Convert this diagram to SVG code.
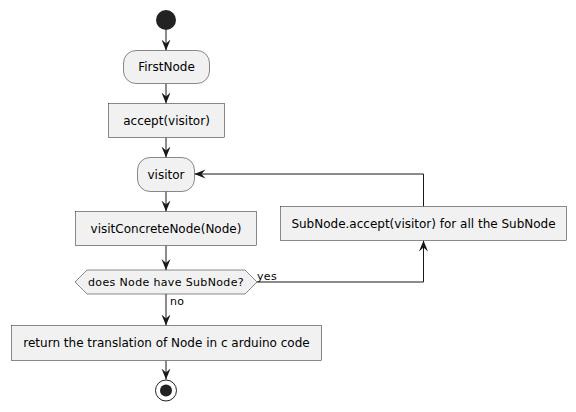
<svg xmlns="http://www.w3.org/2000/svg" width="576" height="412" viewBox="0 0 576 412">
<defs>
<style>
.box{fill:#F1F1F1;stroke:#181818;stroke-width:0.5}
.t{font-family:"DejaVu Sans",sans-serif;font-size:12px;fill:#000;text-anchor:middle;dominant-baseline:central}
.s{font-family:"DejaVu Sans",sans-serif;font-size:11px;fill:#000;letter-spacing:0.35px}
.ln{fill:none;stroke:#181818;stroke-width:1}
</style>
<marker id="ah" viewBox="0 0 11 10" refX="11" refY="5" markerWidth="11" markerHeight="10" markerUnits="userSpaceOnUse" orient="auto">
<polygon points="0,0.5 11,5 0,9.5 4,5" fill="#181818"/>
</marker>
</defs>
<rect width="576" height="412" fill="#FFFFFF"/>
<g id="connectors">
<line class="ln" x1="166" y1="30" x2="166" y2="50.5" marker-end="url(#ah)"/>
<line class="ln" x1="166" y1="83.5" x2="166" y2="103.5" marker-end="url(#ah)"/>
<line class="ln" x1="166" y1="137.5" x2="166" y2="157.5" marker-end="url(#ah)"/>
<line class="ln" x1="166" y1="191.5" x2="166" y2="211.5" marker-end="url(#ah)"/>
<line class="ln" x1="166" y1="245.5" x2="166" y2="270" marker-end="url(#ah)"/>
<line class="ln" x1="166" y1="294" x2="166" y2="325.5" marker-end="url(#ah)"/>
<line class="ln" x1="166" y1="360.5" x2="166" y2="379.5" marker-end="url(#ah)"/>
<polyline class="ln" points="257,282 423.5,282 423.5,240.5" marker-end="url(#ah)"/>
<polyline class="ln" points="423.5,206.5 423.5,174 194.5,174" marker-end="url(#ah)"/>
<text class="s" x="257" y="279.5">yes</text>
<text class="s" x="170" y="305">no</text>
</g>
<g id="start"><circle cx="166" cy="20" r="10" fill="#222222"/></g>
<g id="firstnode"><rect class="box" x="123.5" y="50.5" width="86" height="33" rx="12.5"/><text class="t" x="166.5" y="67">FirstNode</text></g>
<g id="accept"><rect class="box" x="108.5" y="103.5" width="116" height="34"/><text class="t" x="166.5" y="120.5">accept(visitor)</text></g>
<g id="visitor"><rect class="box" x="137.5" y="157.5" width="57" height="34" rx="12.5"/><text class="t" x="166" y="174.5">visitor</text></g>
<g id="visitconcrete"><rect class="box" x="75.5" y="211.5" width="181" height="34"/><text class="t" x="166" y="228.5">visitConcreteNode(Node)</text></g>
<g id="decision"><polygon class="box" points="75,282 87,270 245,270 257,282 245,294 87,294"/><text class="t" x="166" y="282" style="font-size:11px;letter-spacing:0.35px">does Node have SubNode?</text></g>
<g id="subnode"><rect class="box" x="280.5" y="206.5" width="286" height="34"/><text class="t" x="423.5" y="223.5">SubNode.accept(visitor) for all the SubNode</text></g>
<g id="return"><rect class="box" x="11.5" y="325.5" width="310" height="35"/><text class="t" x="166.5" y="343">return the translation of Node in c arduino code</text></g>
<g id="end"><circle cx="166" cy="390.5" r="10.5" fill="none" stroke="#222222" stroke-width="1"/><circle cx="166" cy="390.5" r="6" fill="#222222"/></g>
</svg>
